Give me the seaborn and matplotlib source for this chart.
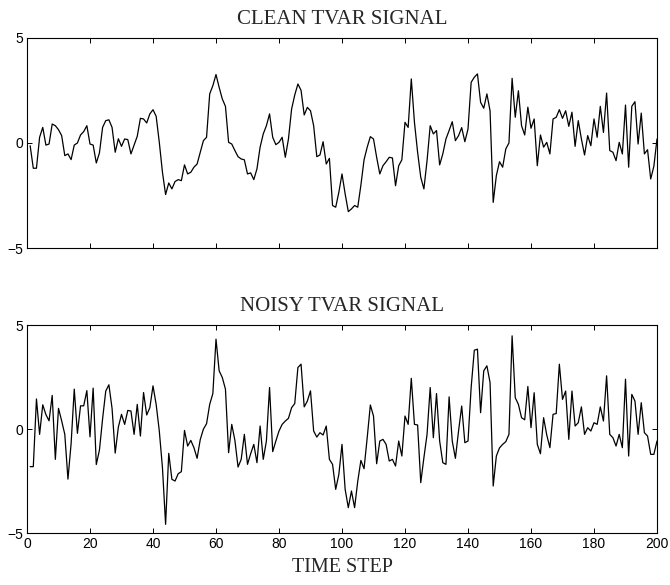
import numpy as np
import pandas as pd
import seaborn as sns
import matplotlib
matplotlib.use("Agg")
import matplotlib.pyplot as plt

# values, time steps 1..200
time_step = list(range(1, 201))

clean_signal = [
    -0.13, -1.2, -1.2, 0.27, 0.74, -0.1, -0.05, 0.9, 0.82, 0.63,
    0.35, -0.6, -0.52, -0.79, -0.1, 0.0, 0.38, 0.54, 0.82, -0.05,
    -0.1, -0.95, -0.47, 0.74, 1.06, 1.1, 0.74, -0.44, 0.2, -0.16,
    0.19, 0.16, -0.52, -0.1, 0.32, 1.17, 1.14, 0.95, 1.38, 1.58,
    1.27, 0.03, -1.39, -2.45, -1.9, -2.18, -1.83, -1.74, -1.79, -1.04,
    -1.47, -1.39, -1.15, -1.0, -0.44, 0.11, 0.27, 2.33, 2.72, 3.25,
    2.64, 2.09, 1.74, 0.03, -0.05, -0.36, -0.65, -0.76, -0.8, -1.47,
    -1.42, -1.74, -1.23, -0.2, 0.43, 0.82, 1.38, 0.27, -0.08, 0.03,
    0.27, -0.68, 0.19, 1.61, 2.28, 2.8, 2.5, 1.33, 1.69, 1.53,
    0.82, -0.65, -0.57, 0.06, -1.0, -0.73, -2.97, -3.05, -2.34, -1.47,
    -2.42, -3.26, -3.13, -2.97, -3.05, -2.0, -0.8, -0.2, 0.3, 0.19,
    -0.68, -1.47, -1.08, -0.89, -0.68, -0.71, -2.03, -1.08, -0.8, 0.98,
    0.74, 3.04, 0.98, -0.44, -1.63, -2.18, -0.84, 0.82, 0.43, 0.59,
    -1.04, -0.52, 0.19, 0.59, 1.01, 0.11, 0.35, 0.73, 0.06, 0.66,
    2.88, 3.12, 3.28, 1.93, 1.65, 2.33, 1.53, -2.82, -1.55, -0.89,
    -1.15, -0.28, 0.0, 3.07, 1.22, 2.48, 0.82, 0.38, 1.7, 0.7,
    1.14, -1.08, 0.38, -0.2, 0.03, -0.52, 1.14, 1.22, 1.58, 1.17,
    1.53, 0.79, 1.46, -0.16, 1.06, 0.19, -0.57, 0.35, -0.13, 1.14,
    0.27, 1.74, 0.5, 2.37, -0.36, -0.44, -0.84, 0.03, -0.52, 1.8,
    -1.15, 1.74, 1.96, -0.05, 1.42, -0.52, -0.32, -1.71, -1.11, 0.19,
]

noisy_signal = [
    -1.8, -1.8, 1.45, -0.25, 1.17, 0.7, 0.4, 1.62, -1.45, 1.0,
    0.4, -0.25, -2.4, -0.7, 1.92, -0.2, 1.12, 1.12, 1.85, -0.37,
    1.97, -1.7, -1.0, 0.5, 1.83, 2.13, 1.0, -1.15, 0.1, 0.71,
    0.23, 0.9, 0.87, -0.25, 1.19, -0.33, 1.76, 0.68, 1.03, 2.08,
    1.19, -0.09, -1.85, -4.57, -1.16, -2.41, -2.49, -2.14, -2.04, -0.06,
    -0.81, -0.54, -0.89, -1.4, -0.5, 0.0, 0.26, 1.19, 1.71, 4.32,
    2.8, 2.48, 1.92, -1.13, 0.23, -0.54, -1.82, -1.45, -0.25, -1.69,
    -1.18, -0.73, -1.61, 0.15, -1.45, -0.57, 2.0, -1.08, -0.57, -0.09,
    0.23, 0.39, 0.52, 1.03, 1.23, 2.96, 3.12, 1.07, 1.35, 1.84,
    -0.09, -0.38, -0.17, -0.28, 0.15, -1.45, -1.69, -2.89, -2.17, -0.73,
    -2.89, -3.77, -2.97, -3.77, -2.5, -1.5, -1.9, -0.41, 1.16, 0.63,
    -1.66, -0.57, -0.49, -0.73, -1.53, -1.45, -1.77, -0.57, -1.29, 0.63,
    0.23, 2.44, 0.23, 0.2, -2.57, -1.37, -0.25, 2.0, -0.41, 1.71,
    -0.57, -1.61, -1.69, 1.55, -0.57, -1.4, -0.09, 1.11, -0.65, -0.57,
    2.0, 3.79, 3.84, 0.79, 2.8, 3.04, 2.24, -2.73, -1.29, -0.9,
    -0.73, -0.6, -0.25, 4.48, 1.51, 1.19, 0.55, 0.45, 2.05, 0.07,
    1.75, -0.73, -1.18, 0.55, -0.28, -0.89, 0.71, 0.75, 3.12, 1.43,
    1.83, -0.49, 1.83, 0.15, 0.31, 1.07, -0.25, 0.07, -0.09, 0.31,
    0.23, 1.07, 0.39, 2.56, -0.25, -0.41, -0.81, -0.25, -0.89, 2.4,
    -1.29, 1.67, 1.35, -0.25, 1.27, -0.17, -0.33, -1.21, -1.21, -0.57,
]

x_ticks = [0, 20, 40, 60, 80, 100, 120, 140, 160, 180, 200]
y_ticks = [-5, 0, 5]
titles = ["CLEAN TVAR SIGNAL", "NOISY TVAR SIGNAL"]

sns.set_style("ticks")
plt.rcParams["font.family"] = ["Liberation Sans", "DejaVu Sans"]
plt.rcParams["xtick.direction"] = "in"
plt.rcParams["ytick.direction"] = "in"

df = pd.DataFrame({"t": time_step, "clean": clean_signal, "noisy": noisy_signal})

fig = plt.figure(figsize=(6.7, 5.85), dpi=100)
ax_top = fig.add_axes([0.0403, 0.5756, 0.9403, 0.36])
ax_bot = fig.add_axes([0.0403, 0.0884, 0.9403, 0.356])

for ax, col, title in [(ax_top, "clean", titles[0]), (ax_bot, "noisy", titles[1])]:
    sns.lineplot(data=df, x="t", y=col, ax=ax, color="black", linewidth=0.9)
    ax.set_xlim(0, 200)
    ax.set_ylim(-5, 5)
    ax.set_xticks(x_ticks)
    ax.set_yticks(y_ticks)
    ax.tick_params(top=True, right=True, length=3.5, width=0.7,
                   labelsize=10, pad=3, colors="black")
    for s in ax.spines.values():
        s.set_linewidth(0.8)
        s.set_color("black")
    ax.set_ylabel("")
    ax.set_xlabel("")
    ax.set_title(title, family="Liberation Serif", fontsize=15, pad=10)

ax_top.set_xticklabels([])
ax_bot.set_xlabel("TIME STEP", family="Liberation Serif", fontsize=14.5, labelpad=5)

fig.savefig("out.png", dpi=100)
